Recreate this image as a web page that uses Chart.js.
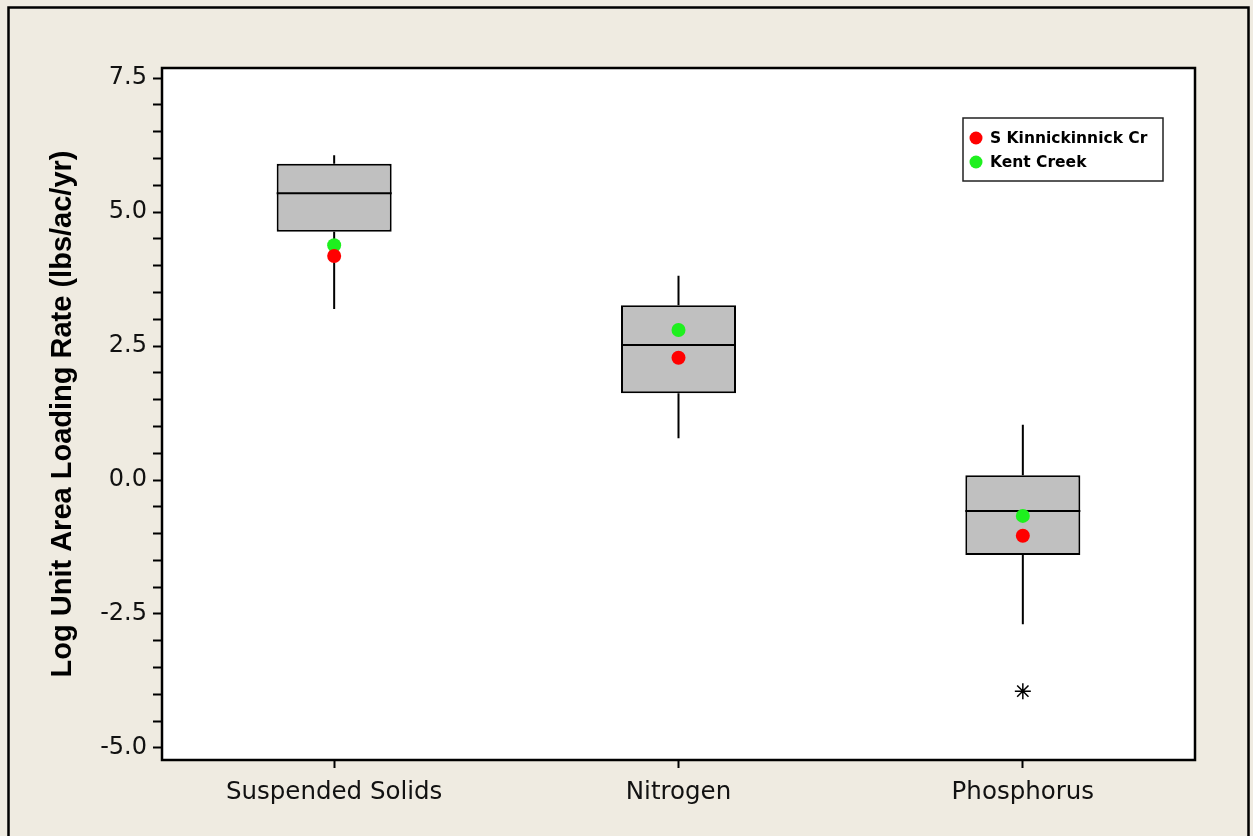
<!DOCTYPE html>
<html>
<head>
<meta charset="utf-8">
<script src="https://cdn.jsdelivr.net/npm/chart.js@4"></script>
<style>
    html, body { margin: 0; padding: 0; background: #efebe1; }
    canvas { display: block; }
</style>
</head>
<body>
<canvas id="graficoCarga" width="1253" height="836"></canvas>
<script>
// Dados
const categorias = ["Suspended Solids", "Nitrogen", "Phosphorus"];
const bigodeInferior = [3.19, 0.78, -2.69];
const q1 = [4.63, 1.62, -1.40];
const mediana = [5.35, 2.52, -0.58];
const q3 = [5.90, 3.26, 0.09];
const bigodeSuperior = [6.06, 3.81, 1.03];
const outliers = [null, null, -3.94];
const kinnickinnick = [4.18, 2.28, -1.04];
const kentCreek = [4.38, 2.80, -0.67];
const ticksPrincipais = [-5.0, -2.5, 0.0, 2.5, 5.0, 7.5];
const divisoes = 5;

// Fundo e moldura externa
const fundo = {
    id: "fundo",
    beforeDraw(chart) {
        const ctx = chart.ctx;
        ctx.save();
        ctx.fillStyle = "#efebe1";
        ctx.fillRect(0, 0, chart.width, chart.height);
        ctx.strokeStyle = "#000";
        ctx.lineWidth = 2.5;
        ctx.strokeRect(8.5, 7.5, chart.width - 4.5 - 8.5, chart.height + 20);
        const a = chart.chartArea;
        ctx.fillStyle = "#fff";
        ctx.fillRect(a.left, a.top, a.right - a.left, a.bottom - a.top);
        ctx.restore();
    },
    afterDraw(chart) {
        const ctx = chart.ctx;
        const a = chart.chartArea;
        ctx.save();
        ctx.strokeStyle = "#000";
        ctx.lineWidth = 2.5;
        ctx.strokeRect(a.left, a.top, a.right - a.left, a.bottom - a.top);
        ctx.restore();
    }
};

// Bigodes e mediana (desenhados logo depois das caixas)
const bigodes = {
    id: "bigodes",
    afterDatasetDraw(chart, args) {
        if (args.index !== 0) return;
        const ctx = chart.ctx;
        const x = chart.scales.x;
        const y = chart.scales.y;
        ctx.save();
        ctx.strokeStyle = "#000";
        ctx.lineWidth = 2;
        args.meta.data.forEach((bar, i) => {
            const cx = x.getPixelForValue(i);
            const meio = bar.width / 2;
            ctx.beginPath();
            ctx.moveTo(cx, y.getPixelForValue(q3[i]));
            ctx.lineTo(cx, y.getPixelForValue(bigodeSuperior[i]));
            ctx.moveTo(cx, y.getPixelForValue(q1[i]));
            ctx.lineTo(cx, y.getPixelForValue(bigodeInferior[i]));
            ctx.moveTo(cx - meio, y.getPixelForValue(mediana[i]));
            ctx.lineTo(cx + meio, y.getPixelForValue(mediana[i]));
            ctx.stroke();
        });
        ctx.restore();
    }
};

// Legenda dentro do gráfico
const legendaInterna = {
    id: "legendaInterna",
    afterDraw(chart) {
        const ctx = chart.ctx;
        const a = chart.chartArea;
        const itens = chart.data.datasets.filter(d => d.naLegenda);
        const w = 200, h = 63;
        const lx = a.right - 32 - w;
        const ly = a.top + 50;
        ctx.save();
        ctx.fillStyle = "#fff";
        ctx.fillRect(lx, ly, w, h);
        ctx.strokeStyle = "#222";
        ctx.lineWidth = 1.5;
        ctx.strokeRect(lx, ly, w, h);
        ctx.font = "bold 15.5px 'DejaVu Sans'";
        ctx.textBaseline = "middle";
        itens.forEach((d, i) => {
            const cy = ly + 20 + i * 24;
            ctx.fillStyle = d.backgroundColor;
            ctx.beginPath();
            ctx.arc(lx + 13, cy, 6.5, 0, Math.PI * 2);
            ctx.fill();
            ctx.fillStyle = "#000";
            ctx.fillText(d.label, lx + 27, cy + 1);
        });
        ctx.restore();
    }
};

new Chart(document.getElementById("graficoCarga"), {
    type: "bar",
    data: {
        labels: categorias,
        datasets: [{
            label: "Caixa",
            data: q1.map((v, i) => [v, q3[i]]),
            backgroundColor: "#c0c0c0",
            borderColor: "#000",
            borderWidth: 2,
            borderSkipped: false,
            barPercentage: 0.334,
            categoryPercentage: 1,
            order: 3
        }, {
            type: "line",
            label: "Outlier",
            data: outliers,
            showLine: false,
            pointStyle: "star",
            pointRadius: 8,
            borderColor: "#000",
            borderWidth: 1.5,
            backgroundColor: "#000",
            order: 2
        }, {
            type: "line",
            label: "S Kinnickinnick Cr",
            naLegenda: true,
            data: kinnickinnick,
            showLine: false,
            pointRadius: 7,
            pointBorderWidth: 0,
            backgroundColor: "#ff0000",
            borderColor: "#ff0000",
            order: 1
        }, {
            type: "line",
            label: "Kent Creek",
            naLegenda: true,
            data: kentCreek,
            showLine: false,
            pointRadius: 7,
            pointBorderWidth: 0,
            backgroundColor: "#1ef01e",
            borderColor: "#1ef01e",
            order: 1
        }]
    },
    options: {
        responsive: false,
        animation: false,
        layout: { padding: { top: 68, right: 58, left: 0, bottom: 0 } },
        plugins: {
            legend: { display: false },
            tooltip: { enabled: false }
        },
        scales: {
            x: {
                offset: true,
                afterFit(scale) { scale.height = 76; },
                grid: {
                    offset: false,
                    drawOnChartArea: false,
                    tickLength: 8,
                    tickColor: "#000",
                    tickWidth: 2
                },
                border: { display: false },
                ticks: {
                    color: "#111",
                    padding: 10,
                    font: { family: "'DejaVu Sans'", size: 24.5 }
                }
            },
            y: {
                min: -5.224,
                max: 7.687,
                afterFit(scale) { scale.width = 162; },
                afterBuildTicks(scale) {
                    const t = [];
                    for (let i = 0; i < ticksPrincipais.length; i++) {
                        t.push({ value: ticksPrincipais[i] });
                        if (i < ticksPrincipais.length - 1) {
                            const passo = (ticksPrincipais[i + 1] - ticksPrincipais[i]) / divisoes;
                            for (let k = 1; k < divisoes; k++) {
                                t.push({ value: ticksPrincipais[i] + passo * k });
                            }
                        }
                    }
                    scale.ticks = t;
                },
                grid: {
                    drawOnChartArea: false,
                    tickLength: 9,
                    tickColor: "#000",
                    tickWidth: 2
                },
                border: { display: false },
                title: {
                    display: true,
                    text: "Log Unit Area Loading Rate (lbs/ac/yr)",
                    color: "#000",
                    padding: { top: 46, bottom: 0 },
                    font: { family: "'Liberation Sans'", size: 29, weight: "bold" }
                },
                ticks: {
                    color: "#111",
                    padding: 6,
                    autoSkip: false,
                    font: { family: "'DejaVu Sans'", size: 24 },
                    callback(value) {
                        const principal = ticksPrincipais.some(v => Math.abs(v - value) < 1e-6);
                        return principal ? value.toFixed(1) : "";
                    }
                }
            }
        }
    },
    plugins: [fundo, bigodes, legendaInterna]
});
</script>
</body>
</html>
